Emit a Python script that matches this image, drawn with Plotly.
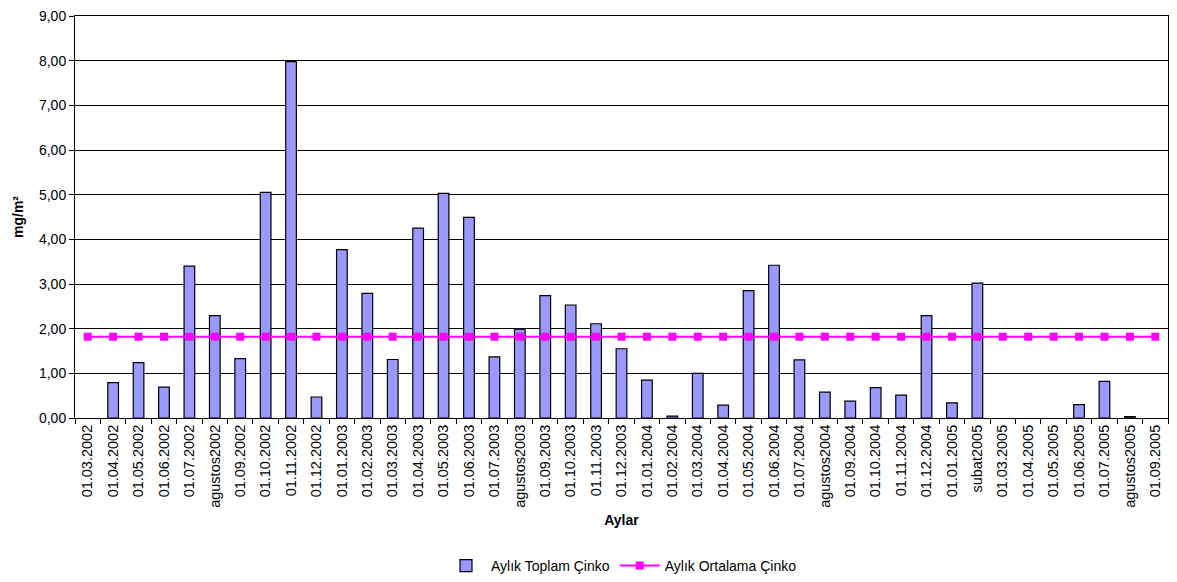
import plotly.graph_objects as go

# ================= DATA =================
MONTHS = [
    "01.03.2002", "01.04.2002", "01.05.2002", "01.06.2002", "01.07.2002",
    "agustos2002", "01.09.2002", "01.10.2002", "01.11.2002", "01.12.2002",
    "01.01.2003", "01.02.2003", "01.03.2003", "01.04.2003", "01.05.2003",
    "01.06.2003", "01.07.2003", "agustos2003", "01.09.2003", "01.10.2003",
    "01.11.2003", "01.12.2003", "01.01.2004", "01.02.2004", "01.03.2004",
    "01.04.2004", "01.05.2004", "01.06.2004", "01.07.2004", "agustos2004",
    "01.09.2004", "01.10.2004", "01.11.2004", "01.12.2004", "01.01.2005",
    "subat2005", "01.03.2005", "01.04.2005", "01.05.2005", "01.06.2005",
    "01.07.2005", "agustos2005", "01.09.2005",
]

TOPLAM = [
    None, 0.79, 1.24, 0.69, 3.40,
    2.29, 1.33, 5.05, 7.98, 0.47,
    3.77, 2.79, 1.31, 4.25, 5.03,
    4.49, 1.37, 1.99, 2.74, 2.53,
    2.11, 1.55, 0.85, 0.04, 1.00,
    0.29, 2.85, 3.42, 1.30, 0.58,
    0.38, 0.68, 0.51, 2.29, 0.34,
    3.02, None, None, None, 0.30,
    0.82, 0.03, None,
]

ORTALAMA = 1.82
Y_TICKS = [0, 1, 2, 3, 4, 5, 6, 7, 8, 9]
# ========================================

FONT = "Liberation Sans, Arial, sans-serif"

# the page body keeps its default 8px margin, so the figure is 16px smaller
FIG_W = 1161
FIG_H = 566


def build_figure():
    fig = go.Figure()

    fig.add_trace(go.Bar(
        x=MONTHS,
        y=TOPLAM,
        name="Aylık Toplam Çinko",
        marker=dict(color="#9999FF", line=dict(color="black", width=1.2)),
    ))

    fig.add_trace(go.Scatter(
        x=MONTHS,
        y=[ORTALAMA] * len(MONTHS),
        mode="lines+markers",
        name="Aylık Ortalama Çinko",
        line=dict(color="#FF00FF", width=2),
        marker=dict(symbol="square", size=8, color="#FF00FF"),
    ))

    fig.update_layout(
        width=FIG_W,
        height=FIG_H,
        margin=dict(l=67, r=1, t=8, b=156, autoexpand=False),
        paper_bgcolor="white",
        plot_bgcolor="white",
        font=dict(family=FONT, size=14, color="black"),
        bargap=0.58,
        separators=",.",
        showlegend=True,
        legend=dict(
            orientation="h",
            x=0.5, xanchor="center",
            y=-0.368, yanchor="middle",
            font=dict(size=14),
            itemwidth=40,
        ),
    )

    fig.update_xaxes(
        type="category",
        range=[-0.5, len(MONTHS) - 0.5],
        automargin=False,
        tickangle=-90,
        tickson="boundaries",
        ticks="outside",
        ticklen=5,
        tickcolor="black",
        showline=True,
        linecolor="black",
        linewidth=1,
        mirror=True,
        showgrid=False,
        tickfont=dict(size=14.5),
        title=dict(text="<b>Aylar</b>", font=dict(size=14), standoff=8),
    )

    fig.update_yaxes(
        range=[0, 9],
        automargin=False,
        tickvals=Y_TICKS,
        tickformat=".2f",
        ticklabeloverflow="allow",
        ticks="outside",
        ticklen=5,
        tickcolor="black",
        showline=True,
        linecolor="black",
        linewidth=1,
        mirror=True,
        showgrid=True,
        gridcolor="black",
        gridwidth=1,
        zeroline=False,
        tickfont=dict(size=14),
        title=dict(text="<b>mg/m²</b>", font=dict(size=14), standoff=12),
    )

    return fig


def main():
    fig = build_figure()
    fig.write_html("out.html")


if __name__ == "__main__":
    main()
